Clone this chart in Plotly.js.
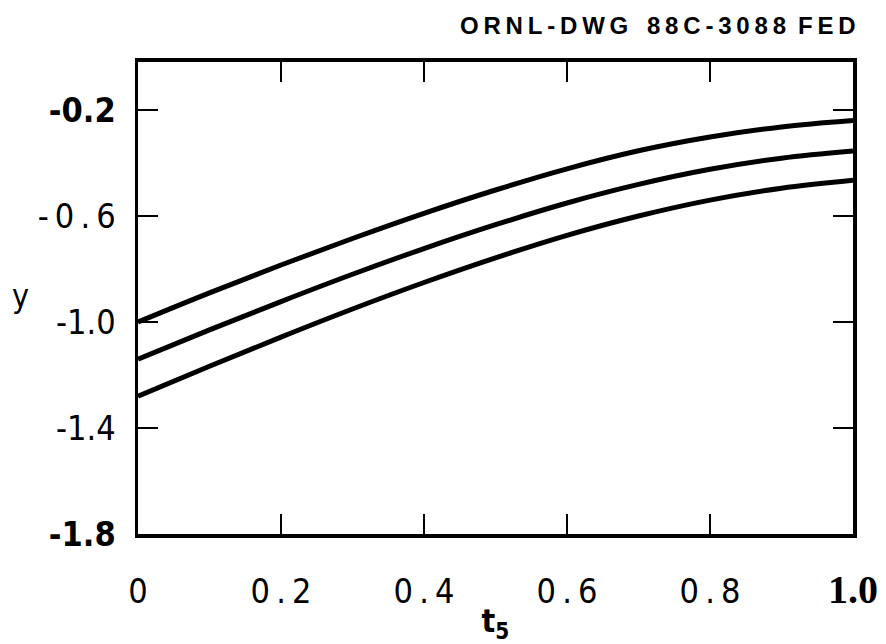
<!DOCTYPE html>
<html>
<head>
<meta charset="utf-8">
<script src="https://cdn.plot.ly/plotly-3.0.1.min.js"></script>
<style>html,body{margin:0;padding:0;background:#fff;}#chart{width:886px;height:644px;}</style>
</head>
<body>
<div id="chart"></div>
<script>
// Data
var t5 = [0, 0.1, 0.2, 0.3, 0.4, 0.5, 0.6, 0.7, 0.8, 0.9, 1.0];
var yUpper  = [-1.00, -0.89, -0.785, -0.685, -0.59, -0.502, -0.422, -0.354, -0.302, -0.264, -0.24];
var yMiddle = [-1.14, -1.03, -0.923, -0.82, -0.723, -0.633, -0.551, -0.481, -0.424, -0.382, -0.355];
var yLower  = [-1.28, -1.167, -1.057, -0.951, -0.851, -0.758, -0.673, -0.60, -0.54, -0.495, -0.465];

var xTickVals = [0, 0.2, 0.4, 0.6, 0.8, 1.0];
var xTickText = ['0', '0\u2009.\u20092', '0\u2009.\u20094', '0\u2009.\u20096', '0\u2009.\u20098', '<span style="font-family:\'Liberation Serif\',serif;font-weight:bold;font-size:40px">1.0</span>'];
var yTickVals = [-0.2, -0.6, -1.0, -1.4, -1.8];
var yTickText = ['<b>-0.2</b>', '-\u20090\u2009.\u20096', '-1.0', '-1.4', '<b>-1.8</b>'];

var FONT = '"DejaVu Sans Condensed", "DejaVu Sans", sans-serif';

function curve(y) {
  return {x: t5, y: y, type: 'scatter', mode: 'lines',
          line: {color: '#000', width: 5, shape: 'spline', smoothing: 1}, hoverinfo: 'skip', showlegend: false};
}

var data = [curve(yUpper), curve(yMiddle), curve(yLower)];

var layout = {
  width: 886, height: 644,
  margin: {l: 138, r: 33, t: 62, b: 110},
  paper_bgcolor: '#fff', plot_bgcolor: '#fff',
  font: {family: FONT, color: '#000'},
  showlegend: false,
  xaxis: {
    range: [0, 1.0], tickvals: xTickVals, ticktext: xTickText,
    showgrid: false, zeroline: false,
    showline: true, linecolor: '#000', linewidth: 4, mirror: 'ticks',
    ticks: 'inside', ticklen: 20, tickwidth: 1.5, tickcolor: '#000',
    ticklabelstandoff: 24,
    tickfont: {family: FONT, size: 34, color: '#000'},
    title: {text: '<b>t<sub>5</sub></b>', font: {family: FONT, size: 32, color: '#000'}, standoff: 2}
  },
  yaxis: {
    range: [-1.8, -0.019], tickvals: yTickVals, ticktext: yTickText,
    showgrid: false, zeroline: false,
    showline: true, linecolor: '#000', linewidth: 3.5, mirror: 'ticks',
    ticks: 'inside', ticklen: 20, tickwidth: 1.5, tickcolor: '#000',
    ticklabelstandoff: 12,
    tickfont: {family: FONT, size: 34, color: '#000'}
  },
  annotations: [
    {text: 'y', xref: 'paper', yref: 'paper', x: -0.164, y: 0.505, xanchor: 'center', yanchor: 'middle',
     showarrow: false, font: {family: FONT, size: 32, color: '#000'}},
    {text: '<b>O\u2009R\u2009N\u2009L\u2009-\u2009D\u2009W\u2009G\u2002 8\u20098\u2009C\u2009-\u20093\u20090\u20098\u20098\u2002F\u2009E\u2009D</b>',
     xref: 'paper', yref: 'paper', x: 1.007, y: 1.0, xanchor: 'right', yanchor: 'bottom', yshift: 21,
     showarrow: false, font: {family: '"Liberation Sans", Arial, sans-serif', size: 24, color: '#000'}}
  ]
};

Plotly.newPlot('chart', data, layout, {displayModeBar: false, staticPlot: true});
</script>
</body>
</html>
